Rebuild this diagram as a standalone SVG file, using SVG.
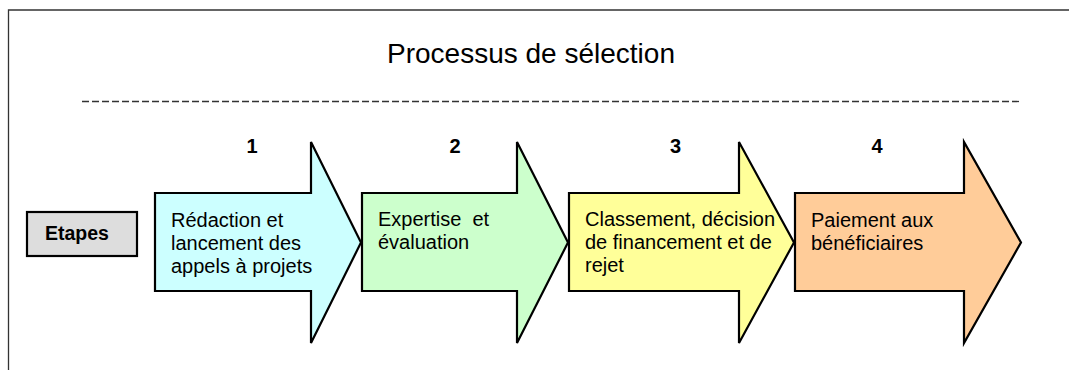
<svg xmlns="http://www.w3.org/2000/svg" width="1069" height="370" viewBox="0 0 1069 370">
  <style>
    .frame { fill: none; stroke: #333333; stroke-width: 1.3; }
    .dash { fill: none; stroke: #333333; stroke-width: 1.3; stroke-dasharray: 7 3; }
    .arrow { stroke: #000000; stroke-width: 2.2; stroke-linejoin: miter; }
    .body { font-family: "Liberation Sans", Arial, sans-serif; font-size: 20px; fill: #000000; }
    .num { font-family: "Liberation Sans", Arial, sans-serif; font-size: 20px; font-weight: bold; fill: #000000; text-anchor: middle; }
    .title { font-family: "Liberation Sans", Arial, sans-serif; font-size: 28px; fill: #000000; text-anchor: middle; }
  </style>
  <rect x="0" y="0" width="1069" height="370" fill="#ffffff"/>
  <g id="frame">
    <path class="frame" d="M8.5,370 V10 H1069"/>
  </g>
  <g id="title">
    <text class="title" x="531" y="63">Processus de sélection</text>
  </g>
  <g id="separator">
    <line class="dash" x1="82" y1="101.5" x2="1020" y2="101.5"/>
  </g>
  <g id="etapes">
    <rect x="27" y="212" width="110" height="44" fill="#dddddd" stroke="#000000" stroke-width="2.2"/>
    <text x="45" y="240" font-family="Liberation Sans, Arial, sans-serif" font-size="19.5" font-weight="bold">Etapes</text>
  </g>
  <g id="step1">
    <text class="num" x="252" y="153">1</text>
    <path class="arrow" fill="#ccffff" d="M155,193 H311 V142 L361,242.5 L311,343 V291 H155 Z"/>
    <text class="body" x="171" y="226.5">Rédaction et</text>
    <text class="body" x="171" y="249.5">lancement des</text>
    <text class="body" x="171" y="272.5">appels à projets</text>
  </g>
  <g id="step2">
    <text class="num" x="455" y="153">2</text>
    <path class="arrow" fill="#ccffcc" d="M362,193 H517 V142 L568,242.5 L517,343 V291 H362 Z"/>
    <text class="body" x="378" y="226" xml:space="preserve">Expertise  et</text>
    <text class="body" x="378" y="249">évaluation</text>
  </g>
  <g id="step3">
    <text class="num" x="675.5" y="153">3</text>
    <path class="arrow" fill="#ffff99" d="M569,193 H739 V142 L794,242.5 L739,343 V291 H569 Z"/>
    <text class="body" x="585" y="226">Classement, décision</text>
    <text class="body" x="585" y="249">de financement et de</text>
    <text class="body" x="585" y="272">rejet</text>
  </g>
  <g id="step4">
    <text class="num" x="877" y="153">4</text>
    <path class="arrow" fill="#ffcc99" d="M795,193 H964 V142 L1021,242.5 L964,343 V291 H795 Z"/>
    <text class="body" x="811" y="226.5">Paiement aux</text>
    <text class="body" x="811" y="249.5">bénéficiaires</text>
  </g>
  <g id="connectors"></g>
</svg>
